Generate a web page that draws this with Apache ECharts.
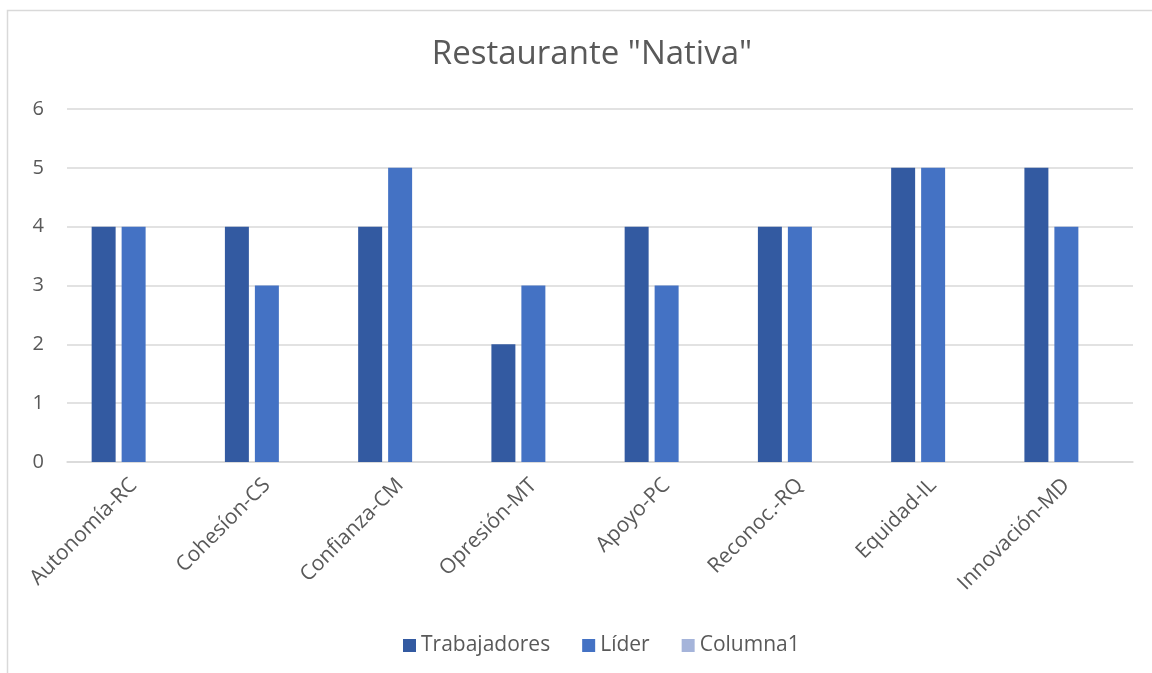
<!DOCTYPE html>
<html>
<head>
<meta charset="utf-8">
<script src="https://cdn.jsdelivr.net/npm/echarts@6/dist/echarts.min.js"></script>
<style>html,body{margin:0;padding:0;background:#fff}#c{width:1152px;height:673px}</style>
</head>
<body>
<div id="c"></div>
<script>
const categories = ['Autonomía-RC','Cohesíon-CS','Confianza-CM','Opresión-MT','Apoyo-PC','Reconoc.-RQ','Equidad-IL','Innovación-MD'];
const trabajadores = [4,4,4,2,4,4,5,5];
const lider = [4,3,5,3,3,4,5,4];
const columna1 = [null,null,null,null,null,null,null,null];
const yTicks = [0,1,2,3,4,5,6];

const font = '"Open Sans", "Liberation Sans", sans-serif';
const chart = echarts.init(document.getElementById('c'));
chart.setOption({
  animation: false,
  backgroundColor: '#fff',
  graphic: [{type:'rect', shape:{x:7.5,y:10.5,width:1200,height:700}, style:{fill:'none', stroke:'#d9d9d9', lineWidth:1.5}, silent:true}],
  title: {text: 'Restaurante "Nativa"', left: 587, top: 33, textAlign: 'center',
    textStyle: {fontFamily: font, fontSize: 33, fontWeight: 'normal', color: '#595959'}},
  legend: {top: 630, left: 398, itemWidth: 13, itemHeight: 13, itemGap: 32, icon: 'rect',
    textStyle: {fontFamily: font, fontSize: 21, color: '#595959'},
    data: ['Trabajadores','Líder','Columna1']},
  grid: {left: 67, right: 19, top: 109, bottom: 211},
  xAxis: {type: 'category', data: categories,
    axisLine: {lineStyle: {color: '#d9d9d9', width: 1.5}}, axisTick: {show: false},
    axisLabel: {rotate: 45, interval: 0, fontFamily: font, fontSize: 21, color: '#595959', margin: 20}},
  yAxis: {type: 'value', min: yTicks[0], max: yTicks[yTicks.length-1], interval: 1,
    axisLine: {show: false}, axisTick: {show: false},
    splitLine: {lineStyle: {color: '#d9d9d9', width: 1.5}},
    axisLabel: {fontFamily: font, fontSize: 20, color: '#595959', margin: 23}},
  series: [
    {name: 'Trabajadores', type: 'bar', data: trabajadores, itemStyle: {color: '#335AA1'}, barGap: '25%', barCategoryGap: '37%'},
    {name: 'Líder', type: 'bar', data: lider, itemStyle: {color: '#4472C4'}},
    {name: 'Columna1', type: 'bar', data: columna1, itemStyle: {color: '#A5B4DA'}}
  ]
});
</script>
</body>
</html>
